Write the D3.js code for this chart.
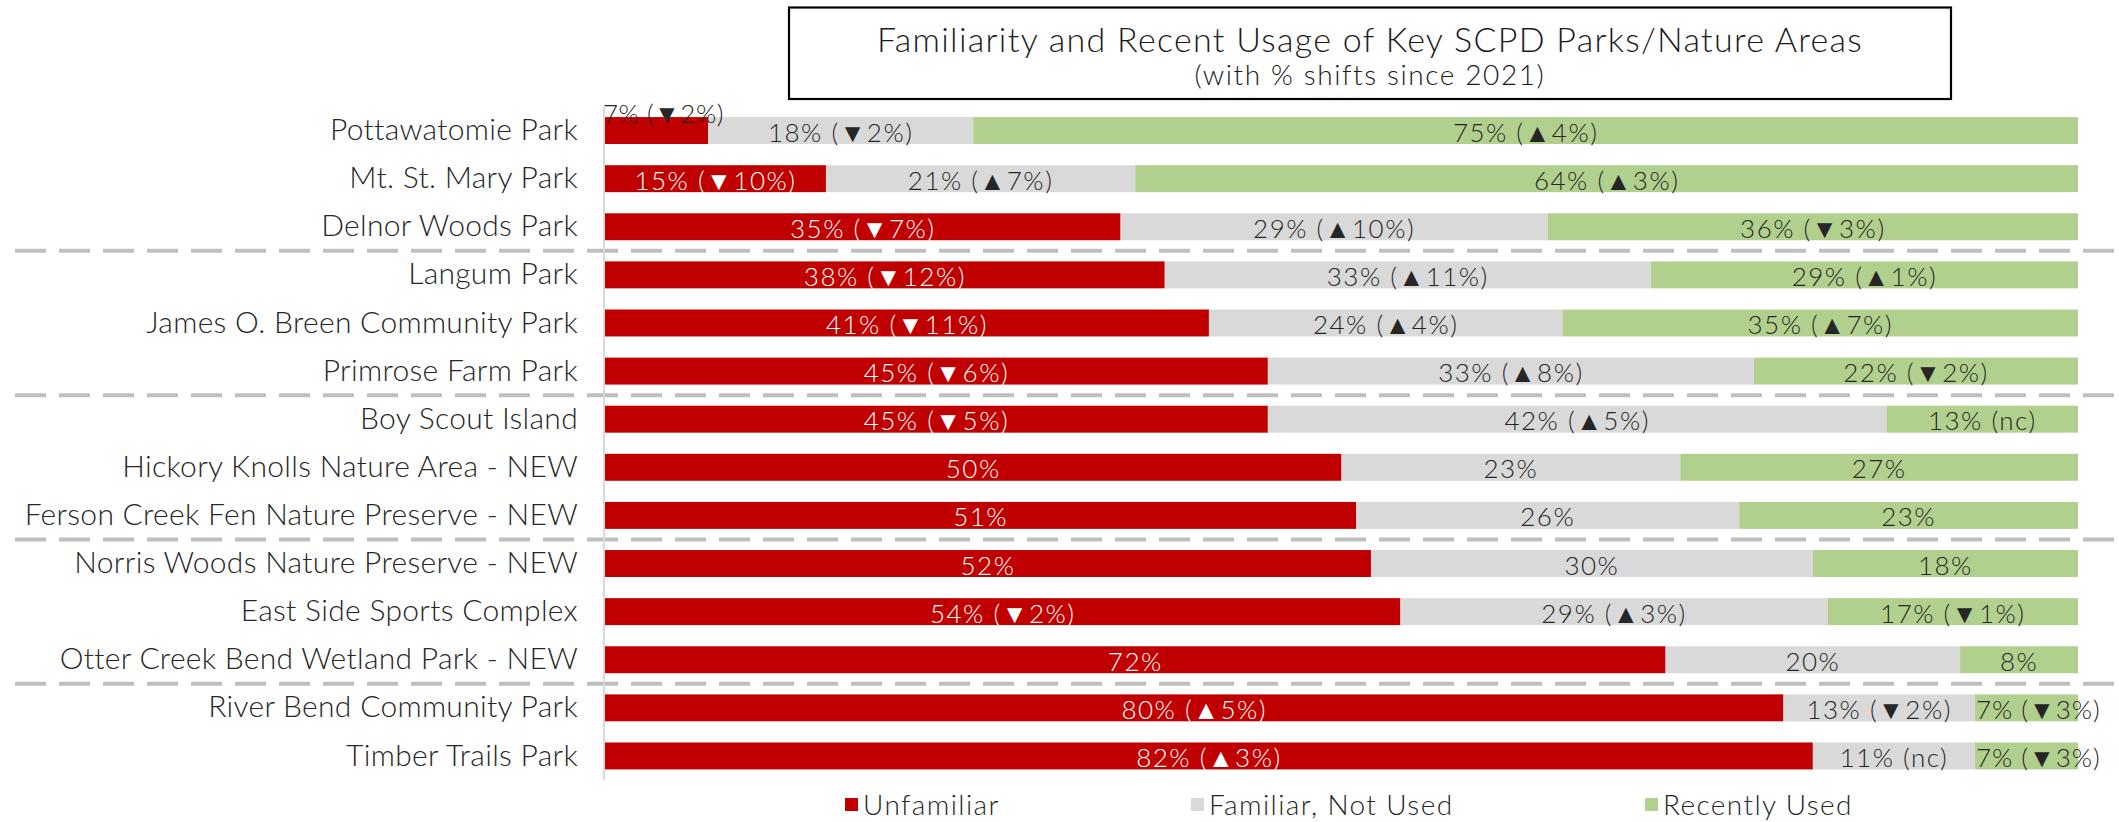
<!DOCTYPE html>
<html><head><meta charset="utf-8">
<script src="https://cdn.jsdelivr.net/npm/d3@7"></script>
<style>
body{margin:0;background:#fff}
text{font-family:Lato,"Open Sans",sans-serif;font-weight:300}
</style>
</head><body>
<svg id="chart" width="2119" height="822"></svg>
<script>
const titleText = "Familiarity and Recent Usage of Key SCPD Parks/Nature Areas";
const subtitleText = "(with % shifts since 2021)";
const categories = [
  "Pottawatomie Park","Mt. St. Mary Park","Delnor Woods Park","Langum Park",
  "James O. Breen Community Park","Primrose Farm Park","Boy Scout Island",
  "Hickory Knolls Nature Area - NEW","Ferson Creek Fen Nature Preserve - NEW",
  "Norris Woods Nature Preserve - NEW","East Side Sports Complex",
  "Otter Creek Bend Wetland Park - NEW","River Bend Community Park","Timber Trails Park"
];
const seriesNames = ["Unfamiliar","Familiar, Not Used","Recently Used"];
const unfamiliar      = [7,15,35,38,41,45,45,50,51,52,54,72,80,82];
const familiarNotUsed = [18,21,29,33,24,33,42,23,26,30,29,20,13,11];
const recentlyUsed    = [75,64,36,29,35,22,13,27,23,18,17,8,7,7];
const unfamiliarShift = ["▼2%","▼10%","▼7%","▼12%","▼11%","▼6%","▼5%","","","","▼2%","","▲5%","▲3%"];
const familiarShift   = ["▼2%","▲7%","▲10%","▲11%","▲4%","▲8%","▲5%","","","","▲3%","","▼2%","nc"];
const recentShift     = ["▲4%","▲3%","▼3%","▲1%","▲7%","▼2%","nc","","","","▼1%","","▼3%","▼3%"];
const groupBreaks = [3,6,9,12];

const colors = ["#C00000","#D9D9D9","#B1D08D"];
const labelColors = ["#FFFFFF","#262626","#262626"];
const keys = ["u","f","r"];
const shifts = [unfamiliarShift, familiarShift, recentShift];

const rows = categories.map((c,i)=>({cat:c,u:unfamiliar[i],f:familiarNotUsed[i],r:recentlyUsed[i],i}));

const svg = d3.select("#chart");
const x = d3.scaleLinear().domain([0,100]).range([605,2078]);
const y = d3.scaleBand().domain(categories).range([106.5,780]).paddingInner(0.44).paddingOuter(0.22);

// title box
svg.append("rect").attr("x",789).attr("y",7.5).attr("width",1162).attr("height",91.5)
  .attr("fill","#fff").attr("stroke","#000").attr("stroke-width",2.2);
svg.append("text").attr("x",1370).attr("y",38).attr("text-anchor","middle").attr("dominant-baseline","central")
  .attr("font-size",34).attr("letter-spacing",1.3).attr("fill","#1a1a1a").text(titleText);
svg.append("text").attr("x",1370).attr("y",74).attr("text-anchor","middle").attr("dominant-baseline","central")
  .attr("font-size",28).attr("letter-spacing",1.6).attr("fill","#1a1a1a").text(subtitleText);

// separators
groupBreaks.forEach(b=>{
  const yy = y(categories[b]) - (y.step()-y.bandwidth())/2;
  svg.append("line").attr("x1",15).attr("x2",2119).attr("y1",yy).attr("y2",yy)
    .attr("stroke","#BFBFBF").attr("stroke-width",4).attr("stroke-dasharray","31,13");
});

// bars
const stack = d3.stack().keys(keys)(rows);
stack.forEach((layer,si)=>{
  const g = svg.append("g");
  g.selectAll("rect").data(layer).join("rect")
    .attr("x",d=>x(d[0])).attr("width",d=>x(d[1])-x(d[0]))
    .attr("y",d=>y(d.data.cat)).attr("height",y.bandwidth())
    .attr("fill",colors[si]);
});
stack.forEach((layer,si)=>{
  const g = svg.append("g");
  layer.forEach(d=>{
    const s = shifts[si][d.data.i];
    const label = (d[1]-d[0]) + "%" + (s ? " (" + s + ")" : "");
    const t = g.append("text").attr("font-size",26).attr("letter-spacing",1.5).attr("dominant-baseline","central")
      .attr("fill",labelColors[si]).text(label);
    const w = t.node().getComputedTextLength();
    const segW = x(d[1])-x(d[0]);
    const cy = y(d.data.cat)+y.bandwidth()/2+1;
    if (si===0 && w > segW) {
      t.attr("x",x(d[0])-2).attr("y",y(d.data.cat)-4).attr("text-anchor","start").attr("fill","#262626")
        .attr("letter-spacing",0.5);
    } else if (si===2 && w > segW) {
      t.attr("x",x(d[0])+1).attr("y",cy).attr("text-anchor","start").attr("letter-spacing",1);
    } else {
      t.attr("x",(x(d[0])+x(d[1]))/2).attr("y",cy).attr("text-anchor","middle");
    }
  });
});

// axis
const ax = svg.append("g").attr("transform","translate(604,0)")
  .call(d3.axisLeft(y).tickSize(0).tickPadding(26));
ax.select(".domain").remove();
ax.selectAll("text").attr("font-size",30).attr("letter-spacing",0.3).attr("fill","#262626")
  .style("font-family","Lato,'Open Sans',sans-serif").style("font-weight",300);
svg.append("line").attr("x1",604).attr("x2",604).attr("y1",106.5).attr("y2",780)
  .attr("stroke","#D9D9D9").attr("stroke-width",2);

// legend
const legendX = [845,1191,1645];
const lg = svg.append("g");
seriesNames.forEach((n,i)=>{
  lg.append("rect").attr("x",legendX[i]).attr("y",798).attr("width",13).attr("height",13).attr("fill",colors[i]);
  lg.append("text").attr("x",legendX[i]+18).attr("y",804).attr("dominant-baseline","central")
    .attr("font-size",28).attr("letter-spacing",1.4).attr("fill","#262626").text(n);
});
</script>
</body></html>
